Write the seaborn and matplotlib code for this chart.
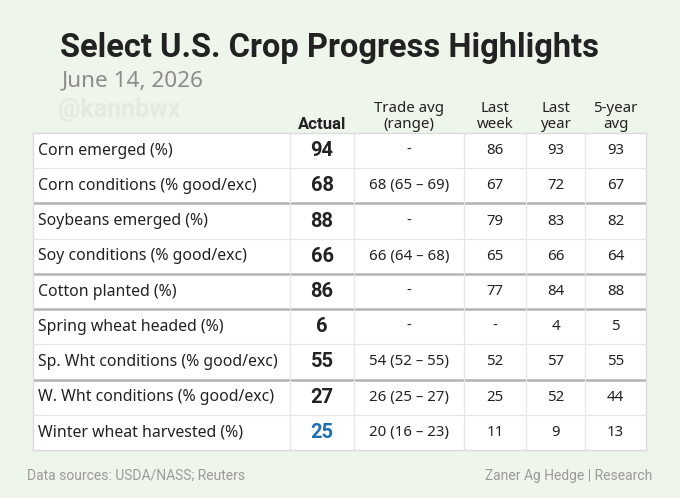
import numpy as np
import seaborn as sns
import matplotlib.pyplot as plt

# Table contents
row_labels = [
    "Corn emerged (%)",
    "Corn conditions (% good/exc)",
    "Soybeans emerged (%)",
    "Soy conditions (% good/exc)",
    "Cotton planted (%)",
    "Spring wheat headed (%)",
    "Sp. Wht conditions (% good/exc)",
    "W. Wht conditions (% good/exc)",
    "Winter wheat harvested (%)",
]
col_headers = ["Actual", "Trade avg\n(range)", "Last\nweek", "Last\nyear", "5-year\navg"]
actual = [94, 68, 88, 66, 86, 6, 55, 27, 25]
trade_avg = ["-", "68 (65 – 69)", "-", "66 (64 – 68)", "-", "-",
             "54 (52 – 55)", "26 (25 – 27)", "20 (16 – 23)"]
last_week = ["86", "67", "79", "65", "77", "-", "52", "25", "11"]
last_year = [93, 72, 83, 66, 84, 4, 57, 52, 9]
five_year = [93, 67, 82, 64, 88, 5, 55, 44, 13]
highlight_rows = [8]          # actual value shown in blue
group_breaks = [2, 4, 5, 7]   # thicker rule above these rows

title = "Select U.S. Crop Progress Highlights"
subtitle = "June 14, 2026"
watermark = "@kannbwx"
source_note = "Data sources: USDA/NASS; Reuters"
credit = "Zaner Ag Hedge | Research"

sns.set_theme(style="white")
plt.rcParams['font.family'] = ['Noto Sans', 'DejaVu Sans']
BOLD = ["Roboto", "DejaVu Sans"]

BG = "#eef5ea"
fig = plt.figure(figsize=(6.8, 4.98), dpi=100, facecolor=BG)

# column widths in pixels of the table area
col_widths = np.array([257, 64, 110, 62, 59, 61])
col_edges = np.concatenate([[0], np.cumsum(col_widths)])
n_rows = len(row_labels)

ax = fig.add_axes([33 / 680, 48 / 498, col_edges[-1] / 680, 317 / 498])
ax.set_xlim(0, col_edges[-1])
ax.set_ylim(n_rows, 0)
ax.set_facecolor("white")
ax.set_xticks([])
ax.set_yticks([])
for s in ax.spines.values():
    s.set_color("#dcdcdc")
    s.set_linewidth(1)

# grid lines
for r in range(1, n_rows):
    if r in group_breaks:
        ax.axhline(r, color="#b4b4b4", lw=1.8)
    else:
        ax.axhline(r, color="#e6e6e6", lw=0.9)
for e in col_edges[1:-1]:
    ax.axvline(e, color="#e6e6e6", lw=0.9)

centers = (col_edges[:-1] + col_edges[1:]) / 2
txt = "#222222"
for i in range(n_rows):
    y = i + 0.5
    ax.text(5, y, row_labels[i], ha="left", va="center", fontsize=11.4, color=txt)
    ax.text(centers[1], y, str(actual[i]), ha="center", va="center",
            fontsize=14.5, fontweight="bold", family=BOLD,
            color="#1f6fb4" if i in highlight_rows else txt)
    ax.text(centers[2], y, trade_avg[i], ha="center", va="center", fontsize=10.8, color=txt)
    ax.text(centers[3], y, last_week[i], ha="center", va="center", fontsize=10.8, color=txt)
    ax.text(centers[4], y, str(last_year[i]), ha="center", va="center", fontsize=10.8, color=txt)
    ax.text(centers[5], y, str(five_year[i]), ha="center", va="center", fontsize=10.8, color=txt)

# headers
for j, h in enumerate(col_headers):
    if j == 0:
        ax.text(centers[1], -0.04, h, ha="center", va="bottom", fontsize=12,
                fontweight="bold", family=BOLD, color=txt, clip_on=False)
    else:
        ax.text(centers[j + 1], -0.04, h, ha="center", va="bottom", fontsize=10.8,
                color=txt, linespacing=1.05, clip_on=False)

fig.text(60 / 680, 1 - 48 / 498, title, ha="left", va="center", fontsize=23.5,
         fontweight="bold", color="#222222", family=BOLD)
fig.text(62 / 680, 1 - 81 / 498, subtitle, ha="left", va="center", fontsize=16.2,
         color="#8c8c8c")
fig.text(58 / 680, 1 - 110 / 498, watermark, ha="left", va="center", fontsize=18,
         fontweight="bold", color="#e3ebdf", family=BOLD)
fig.text(27 / 680, 1 - 476 / 498, source_note, ha="left", va="center", fontsize=10,
         color="#9a9a9a", family=BOLD)
fig.text(652 / 680, 1 - 476 / 498, credit, ha="right", va="center", fontsize=10,
         color="#9a9a9a", family=BOLD)

fig.savefig("out.png", dpi=100, facecolor=BG)
